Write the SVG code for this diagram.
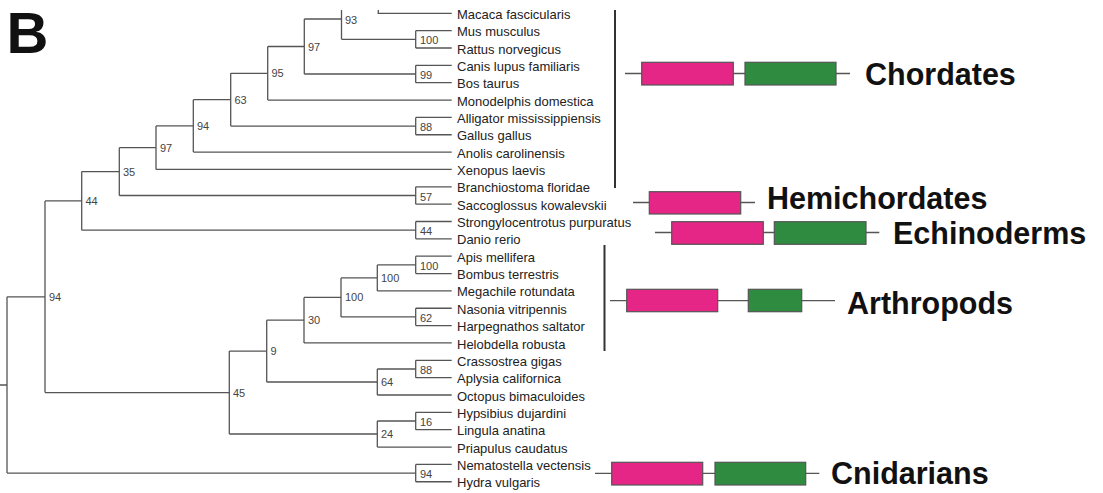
<svg xmlns="http://www.w3.org/2000/svg" width="1103" height="493" viewBox="0 0 1103 493">
<style>
.e{fill:none;stroke:#555;stroke-width:1.3}
.bar{stroke:#333;stroke-width:2}
.leaf{font-family:"Liberation Sans",Arial,sans-serif;font-size:13px;fill:#222}
.bs{font-family:"Liberation Sans",Arial,sans-serif;font-size:11px;fill:#444}
.grp{font-family:"Liberation Sans",Arial,sans-serif;font-size:30.5px;font-weight:bold;fill:#111}
.pk{fill:#E62686;stroke:#555;stroke-width:1.2}
.gr{fill:#2E8B3F;stroke:#555;stroke-width:1.2}
.dl{stroke:#555;stroke-width:1.3}
</style>
<rect width="1103" height="493" fill="#fff"/>
<text x="6.5" y="53" font-family="Liberation Sans,Arial,sans-serif" font-size="58" font-weight="bold" fill="#111">B</text>
<g id="connectors">
<path class="e" d="M0,385 H7 M7,296.8 V473.1 M7,296.8 H45 M7,473.1 H415.7"/>
<path class="e" d="M45,200.9 V392.6 M45,200.9 H81.7 M45,392.6 H229.3"/>
<path class="e" d="M81.7,171.6 V230.2 M81.7,171.6 H119.3 M81.7,230.2 H415.7"/>
<path class="e" d="M119.3,147.7 V195.5 M119.3,147.7 H156 M119.3,195.5 H415.7"/>
<path class="e" d="M156,125.9 V169.45 M156,125.9 H193.3 M156,169.45 H451.7"/>
<path class="e" d="M193.3,99.7 V152.1 M193.3,99.7 H230.7 M193.3,152.1 H451.7"/>
<path class="e" d="M230.7,73.3 V126.1 M230.7,73.3 H267.7 M230.7,126.1 H415.7"/>
<path class="e" d="M267.7,46.5 V100.05 M267.7,46.5 H304.3 M267.7,100.05 H451.7"/>
<path class="e" d="M304.3,19 V74 M304.3,19 H341.5 M304.3,74 H415.7"/>
<path class="e" d="M341.5,10 V39.3 M341.5,39.3 H415.7 M378.3,10 V13.3 H451.7"/>
<path class="e" d="M415.7,30.65 V48 M415.7,30.65 H451.7 M415.7,48 H451.7"/>
<path class="e" d="M415.7,65.35 V82.7 M415.7,65.35 H451.7 M415.7,82.7 H451.7"/>
<path class="e" d="M415.7,117.4 V134.75 M415.7,117.4 H451.7 M415.7,134.75 H451.7"/>
<path class="e" d="M415.7,186.8 V204.15 M415.7,186.8 H451.7 M415.7,204.15 H451.7"/>
<path class="e" d="M415.7,221.5 V238.85 M415.7,221.5 H451.7 M415.7,238.85 H451.7"/>
<path class="e" d="M229.3,351.1 V434 M229.3,351.1 H266.7 M229.3,434 H377.3"/>
<path class="e" d="M266.7,320.2 V382 M266.7,320.2 H304 M266.7,382 H377.3"/>
<path class="e" d="M304,297.4 V342.95 M304,297.4 H341 M304,342.95 H451.7"/>
<path class="e" d="M341,277.9 V316.9 M341,277.9 H377.3 M341,316.9 H415.7"/>
<path class="e" d="M377.3,264.9 V290.9 M377.3,264.9 H415.7 M377.3,290.9 H451.7"/>
<path class="e" d="M377.3,369 V395 M377.3,369 H415.7 M377.3,395 H451.7"/>
<path class="e" d="M377.3,421 V447.05 M377.3,421 H415.7 M377.3,447.05 H451.7"/>
<path class="e" d="M415.7,256.2 V273.55 M415.7,256.2 H451.7 M415.7,273.55 H451.7"/>
<path class="e" d="M415.7,308.25 V325.6 M415.7,308.25 H451.7 M415.7,325.6 H451.7"/>
<path class="e" d="M415.7,360.3 V377.65 M415.7,360.3 H451.7 M415.7,377.65 H451.7"/>
<path class="e" d="M415.7,412.35 V429.7 M415.7,412.35 H451.7 M415.7,429.7 H451.7"/>
<path class="e" d="M415.7,464.4 V481.75 M415.7,464.4 H451.7 M415.7,481.75 H451.7"/>
</g>
<g id="bootstrap">
<text class="bs" x="345" y="24">93</text>
<text class="bs" x="308" y="50.5">97</text>
<text class="bs" x="271.5" y="77.3">95</text>
<text class="bs" x="234.5" y="103.7">63</text>
<text class="bs" x="197" y="129.9">94</text>
<text class="bs" x="160" y="151.7">97</text>
<text class="bs" x="123" y="175.6">35</text>
<text class="bs" x="85.5" y="204.9">44</text>
<text class="bs" x="49" y="300.8">94</text>
<text class="bs" x="420" y="44.3">100</text>
<text class="bs" x="420" y="79">99</text>
<text class="bs" x="420" y="131.1">88</text>
<text class="bs" x="420" y="200.5">57</text>
<text class="bs" x="420" y="235.2">44</text>
<text class="bs" x="420" y="269.9">100</text>
<text class="bs" x="420" y="321.9">62</text>
<text class="bs" x="420" y="374">88</text>
<text class="bs" x="420" y="426">16</text>
<text class="bs" x="420" y="478.1">94</text>
<text class="bs" x="381" y="281.9">100</text>
<text class="bs" x="345" y="301.4">100</text>
<text class="bs" x="308" y="324.2">30</text>
<text class="bs" x="270.5" y="355.1">9</text>
<text class="bs" x="381" y="386">64</text>
<text class="bs" x="381" y="438">24</text>
<text class="bs" x="233" y="396.6">45</text>
</g>
<g id="leaves">
<text class="leaf" x="457" y="18.8">Macaca fascicularis</text>
<text class="leaf" x="457" y="36.2">Mus musculus</text>
<text class="leaf" x="457" y="53.5">Rattus norvegicus</text>
<text class="leaf" x="457" y="70.9">Canis lupus familiaris</text>
<text class="leaf" x="457" y="88.2">Bos taurus</text>
<text class="leaf" x="457" y="105.6">Monodelphis domestica</text>
<text class="leaf" x="457" y="122.9">Alligator mississippiensis</text>
<text class="leaf" x="457" y="140.3">Gallus gallus</text>
<text class="leaf" x="457" y="157.6">Anolis carolinensis</text>
<text class="leaf" x="457" y="175">Xenopus laevis</text>
<text class="leaf" x="457" y="192.3">Branchiostoma floridae</text>
<text class="leaf" x="457" y="209.7">Saccoglossus kowalevskii</text>
<text class="leaf" x="457" y="227">Strongylocentrotus purpuratus</text>
<text class="leaf" x="457" y="244.4">Danio rerio</text>
<text class="leaf" x="457" y="261.7">Apis mellifera</text>
<text class="leaf" x="457" y="279.1">Bombus terrestris</text>
<text class="leaf" x="457" y="296.4">Megachile rotundata</text>
<text class="leaf" x="457" y="313.8">Nasonia vitripennis</text>
<text class="leaf" x="457" y="331.1">Harpegnathos saltator</text>
<text class="leaf" x="457" y="348.5">Helobdella robusta</text>
<text class="leaf" x="457" y="365.8">Crassostrea gigas</text>
<text class="leaf" x="457" y="383.2">Aplysia californica</text>
<text class="leaf" x="457" y="400.5">Octopus bimaculoides</text>
<text class="leaf" x="457" y="417.9">Hypsibius dujardini</text>
<text class="leaf" x="457" y="435.2">Lingula anatina</text>
<text class="leaf" x="457" y="452.6">Priapulus caudatus</text>
<text class="leaf" x="457" y="469.9">Nematostella vectensis</text>
<text class="leaf" x="457" y="487.3">Hydra vulgaris</text>
</g>
<g id="chordates">
<line class="bar" x1="615" y1="10" x2="615" y2="188"/>
<line class="dl" x1="625" y1="73.5" x2="850" y2="73.5"/>
<rect class="pk" x="641.7" y="62.3" width="91.6" height="22.7"/>
<rect class="gr" x="745" y="62.3" width="91" height="22.7"/>
<text class="grp" x="865" y="85">Chordates</text>
</g>
<g id="hemichordates">
<line class="dl" x1="633" y1="202.5" x2="755" y2="202.5"/>
<rect class="pk" x="649.3" y="191.7" width="91.4" height="22.3"/>
<text class="grp" x="767" y="208.5">Hemichordates</text>
</g>
<g id="echinoderms">
<line class="dl" x1="655" y1="232.5" x2="879.3" y2="232.5"/>
<rect class="pk" x="671.7" y="221.7" width="91.6" height="22.6"/>
<rect class="gr" x="774.3" y="221.7" width="91.7" height="22.6"/>
<text class="grp" x="893" y="243.5">Echinoderms</text>
</g>
<g id="arthropods">
<line class="bar" x1="604.5" y1="245" x2="604.5" y2="351"/>
<line class="dl" x1="610" y1="300.7" x2="835" y2="300.7"/>
<rect class="pk" x="626.7" y="289.3" width="91" height="22.4"/>
<rect class="gr" x="748.3" y="289.3" width="53.4" height="22.4"/>
<text class="grp" x="847" y="314">Arthropods</text>
</g>
<g id="cnidarians">
<line class="dl" x1="595" y1="473.3" x2="819.3" y2="473.3"/>
<rect class="pk" x="611.7" y="462.3" width="91" height="22.7"/>
<rect class="gr" x="715" y="462.3" width="90.7" height="22.7"/>
<text class="grp" x="831" y="484">Cnidarians</text>
</g>
</svg>
